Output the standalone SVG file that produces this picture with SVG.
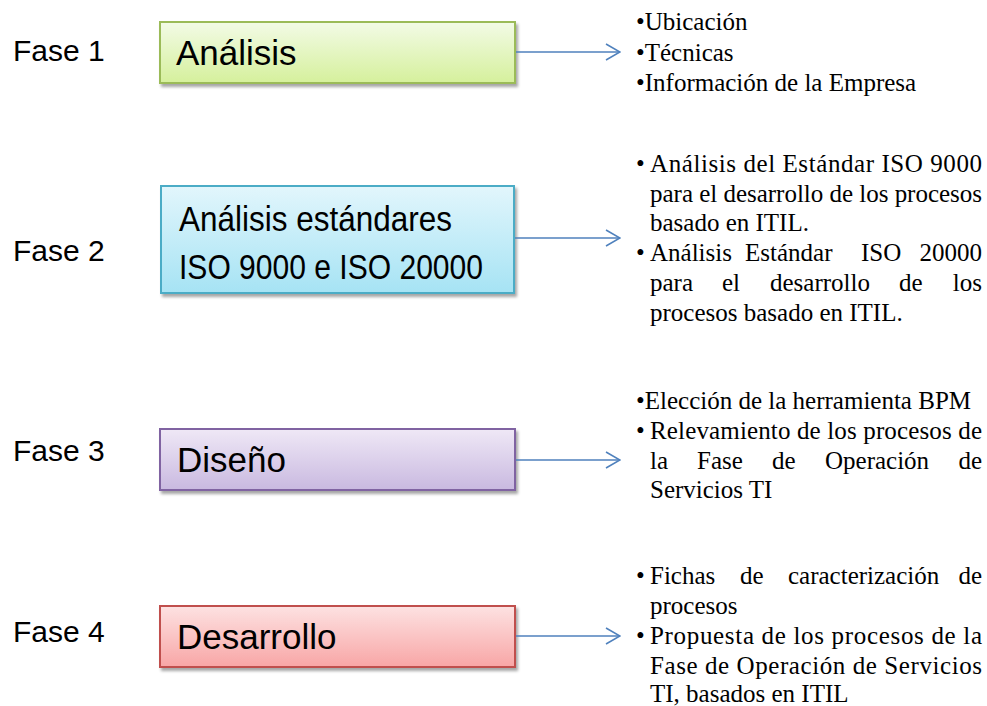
<svg xmlns="http://www.w3.org/2000/svg" width="987" height="706" viewBox="0 0 987 706">
<defs>
<linearGradient id="gG" x1="0" y1="0" x2="0" y2="1"><stop offset="0" stop-color="#f3fbe6"/><stop offset="1" stop-color="#d5f09c"/></linearGradient>
<linearGradient id="gB" x1="0" y1="0" x2="0" y2="1"><stop offset="0" stop-color="#e2f6fc"/><stop offset="1" stop-color="#a6e3f4"/></linearGradient>
<linearGradient id="gP" x1="0" y1="0" x2="0" y2="1"><stop offset="0" stop-color="#efe8f6"/><stop offset="1" stop-color="#c9b9e0"/></linearGradient>
<linearGradient id="gR" x1="0" y1="0" x2="0" y2="1"><stop offset="0" stop-color="#fde2e2"/><stop offset="1" stop-color="#f8a6a6"/></linearGradient>
<filter id="sh" x="-5%" y="-10%" width="115%" height="130%"><feDropShadow dx="2" dy="3" stdDeviation="1.5" flood-color="#000" flood-opacity="0.35"/></filter>
<marker id="ah" viewBox="0 0 16 18" refX="15" refY="9" markerWidth="16" markerHeight="18" markerUnits="userSpaceOnUse" orient="auto"><path d="M1,1 L15,9 L1,17" fill="none" stroke="#4f81bd" stroke-width="1.6"/></marker>
</defs>
<style>
.phase{font-family:"Liberation Sans",Arial,sans-serif;font-size:30px;fill:#000}
.bx{font-family:"Liberation Sans",Arial,sans-serif;font-size:35px;fill:#000}
.tx{font-family:"Liberation Serif","Times New Roman",serif;font-size:25px;fill:#000}
.e{text-anchor:end}
.conn{stroke:#4f81bd;stroke-width:1.6;fill:none;marker-end:url(#ah)}
</style>
<rect width="987" height="706" fill="#fff"/>

<g id="phase1">
<text class="phase" x="13" y="61">Fase 1</text>
<rect x="160" y="22" width="355" height="61" fill="url(#gG)" stroke="#9bbb59" stroke-width="2" filter="url(#sh)"/>
<text class="bx" x="176" y="65">Análisis</text>
<text class="tx" x="636" y="30">•Ubicación</text>
<text class="tx" x="636" y="61">•Técnicas</text>
<text class="tx" x="636" y="91">•Información de la Empresa</text>
</g>

<g id="phase2">
<text class="phase" x="13" y="261">Fase 2</text>
<rect x="161" y="186" width="353" height="107" fill="url(#gB)" stroke="#4bacc6" stroke-width="2" filter="url(#sh)"/>
<text class="bx" x="179" y="231" textLength="273" lengthAdjust="spacingAndGlyphs">Análisis  estándares</text>
<text class="bx" x="179" y="279" textLength="304" lengthAdjust="spacingAndGlyphs">ISO 9000 e ISO 20000</text>
<text class="tx" x="636" y="172">•</text>
<text class="tx" x="650" y="172" textLength="332" lengthAdjust="spacing">Análisis del Estándar  ISO 9000</text>
<text class="tx" x="650" y="202" textLength="332" lengthAdjust="spacing">para el desarrollo de los procesos</text>
<text class="tx" x="650" y="231">basado en ITIL.</text>
<text class="tx" x="636" y="261">•</text>
<text class="tx" y="261"><tspan x="650">Análisis</tspan><tspan x="745">Estándar</tspan><tspan x="861">ISO</tspan></text>
<text class="tx e" x="982" y="261">20000</text>
<text class="tx" y="291"><tspan x="650">para</tspan><tspan x="722">el</tspan><tspan x="770">desarrollo</tspan><tspan x="899">de</tspan></text>
<text class="tx e" x="982" y="291">los</text>
<text class="tx" x="650" y="321">procesos basado en ITIL.</text>
</g>

<g id="phase3">
<text class="phase" x="13" y="461">Fase 3</text>
<rect x="160" y="429" width="355" height="61" fill="url(#gP)" stroke="#8064a2" stroke-width="2" filter="url(#sh)"/>
<text class="bx" x="177" y="472">Diseño</text>
<text class="tx" x="636" y="409">•Elección de la herramienta BPM</text>
<text class="tx" x="636" y="439">•</text>
<text class="tx" x="650" y="439" textLength="332" lengthAdjust="spacing">Relevamiento de los procesos de</text>
<text class="tx" y="469"><tspan x="650">la</tspan><tspan x="697">Fase</tspan><tspan x="772">de</tspan><tspan x="825">Operación</tspan></text>
<text class="tx e" x="982" y="469">de</text>
<text class="tx" x="650" y="498">Servicios TI</text>
</g>

<g id="phase4">
<text class="phase" x="13" y="642">Fase 4</text>
<rect x="160" y="606" width="355" height="61" fill="url(#gR)" stroke="#c0504d" stroke-width="2" filter="url(#sh)"/>
<text class="bx" x="177" y="649">Desarrollo</text>
<text class="tx" x="636" y="584">•</text>
<text class="tx" y="584"><tspan x="650">Fichas</tspan><tspan x="740">de</tspan><tspan x="788">caracterización</tspan></text>
<text class="tx e" x="982" y="584">de</text>
<text class="tx" x="650" y="614">procesos</text>
<text class="tx" x="636" y="644">•</text>
<text class="tx" x="650" y="644" textLength="332" lengthAdjust="spacing">Propuesta de los procesos de la</text>
<text class="tx" x="650" y="674" textLength="332" lengthAdjust="spacing">Fase de Operación de Servicios</text>
<text class="tx" x="650" y="702">TI, basados en ITIL</text>
</g>

<g id="connectors">
<line class="conn" x1="516" y1="52" x2="620" y2="52"/>
<line class="conn" x1="515" y1="238" x2="620" y2="238"/>
<line class="conn" x1="516" y1="460" x2="620" y2="460"/>
<line class="conn" x1="516" y1="636" x2="620" y2="636"/>
</g>
</svg>
